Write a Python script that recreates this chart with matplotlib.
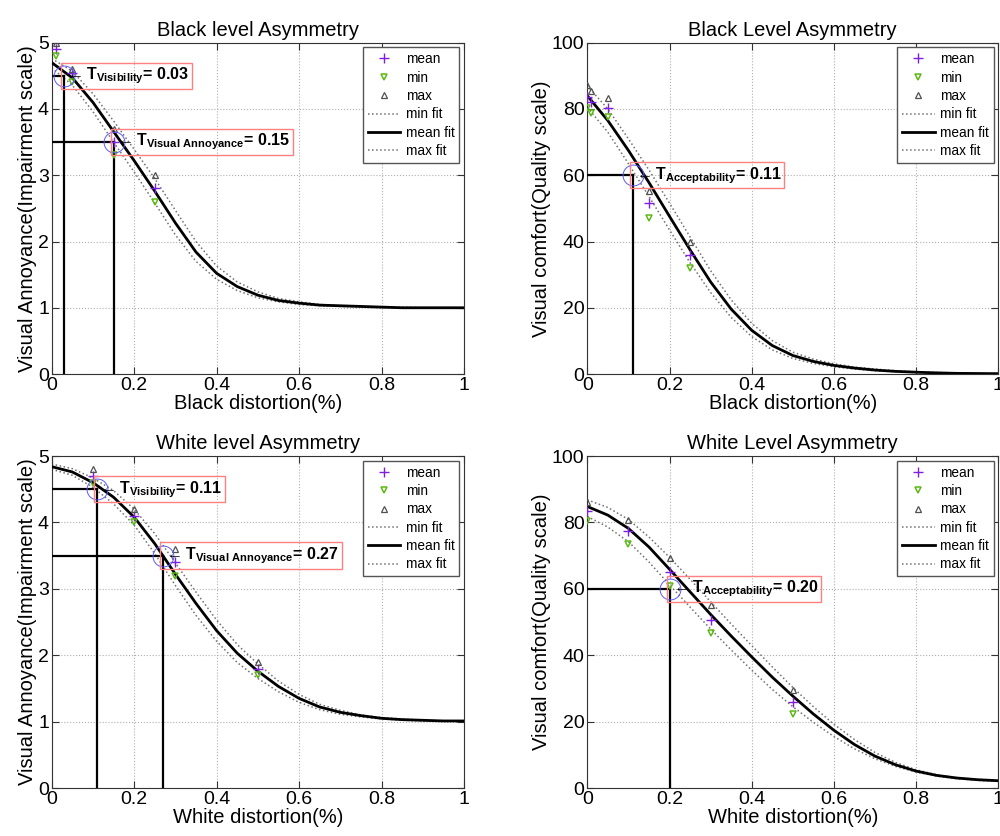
import matplotlib
matplotlib.use("Agg")
import matplotlib.pyplot as plt
from matplotlib.lines import Line2D

plt.rcParams['font.family'] = ['Liberation Sans', 'DejaVu Sans']
plt.rcParams['mathtext.fontset'] = 'custom'
plt.rcParams['mathtext.rm'] = 'Liberation Sans'
plt.rcParams['mathtext.bf'] = 'Liberation Sans:bold'

# common x grid of the fitted curves
fit_x = [0, .05, .1, .15, .2, .25, .3, .35, .4, .45, .5,
         .55, .6, .65, .7, .75, .8, .85, .9, .95, 1]

# --- black level, impairment scale
bi_x = [0.01, 0.05, 0.15, 0.25]
bi_mean = [4.9, 4.55, 3.5, 2.8]
bi_min = [4.8, 4.4, 3.3, 2.6]
bi_max = [5.0, 4.6, 3.7, 3.0]
bi_mean_fit = [4.70, 4.47, 4.10, 3.66, 3.22, 2.76, 2.28, 1.84, 1.52, 1.32, 1.19,
               1.11, 1.07, 1.04, 1.03, 1.02, 1.01, 1.0, 1.0, 1.0, 1.0]
bi_min_fit = [4.62, 4.36, 3.96, 3.50, 3.05, 2.58, 2.10, 1.70, 1.43, 1.26, 1.15,
              1.09, 1.05, 1.03, 1.02, 1.01, 1.0, 1.0, 1.0, 1.0, 1.0]
bi_max_fit = [4.76, 4.57, 4.23, 3.82, 3.39, 2.95, 2.47, 2.00, 1.63, 1.39, 1.24,
              1.14, 1.09, 1.05, 1.03, 1.02, 1.01, 1.01, 1.0, 1.0, 1.0]
bi_thr = [(0.03, 4.5, 'Visibility', '0.03'), (0.15, 3.5, 'Visual Annoyance', '0.15')]

# --- black level, quality scale
bq_x = [0, 0.01, 0.05, 0.15, 0.25]
bq_mean = [83.7, 82.2, 80.4, 51.6, 35.8]
bq_min = [80.2, 78.7, 77.5, 47.2, 31.9]
bq_max = [87.2, 85.4, 83.4, 55.1, 39.8]
bq_mean_fit = [84, 76.5, 67.5, 57.8, 47.6, 37.5, 27.8, 19.6, 13.2, 8.6, 5.6,
               3.8, 2.6, 1.8, 1.2, 0.8, 0.55, 0.35, 0.2, 0.15, 0.1]
bq_min_fit = [80.5, 73, 63.5, 53.6, 43.5, 33.6, 24.6, 17.1, 11.3, 7.3, 4.7,
              3.2, 2.2, 1.5, 1.0, 0.7, 0.45, 0.3, 0.2, 0.1, 0.08]
bq_max_fit = [87, 80, 71, 61.6, 51.6, 41.4, 31.2, 22.4, 15.3, 10.1, 6.6,
              4.5, 3.1, 2.1, 1.5, 1.0, 0.65, 0.45, 0.3, 0.2, 0.15]
bq_thr = [(0.11, 60, 'Acceptability', '0.11')]

# --- white level, impairment scale
wi_x = [0.1, 0.2, 0.3, 0.5]
wi_mean = [4.7, 4.1, 3.4, 1.8]
wi_min = [4.6, 4.0, 3.2, 1.7]
wi_max = [4.8, 4.2, 3.6, 1.9]
wi_mean_fit = [4.84, 4.76, 4.60, 4.38, 4.08, 3.68, 3.22, 2.78, 2.37, 2.03, 1.76,
               1.53, 1.35, 1.22, 1.14, 1.09, 1.05, 1.03, 1.02, 1.01, 1.01]
wi_min_fit = [4.80, 4.71, 4.53, 4.28, 3.96, 3.53, 3.05, 2.60, 2.21, 1.89, 1.65,
              1.45, 1.29, 1.18, 1.11, 1.07, 1.04, 1.02, 1.01, 1.01, 1.0]
wi_max_fit = [4.88, 4.81, 4.67, 4.48, 4.20, 3.83, 3.39, 2.95, 2.53, 2.16, 1.87,
              1.61, 1.41, 1.26, 1.17, 1.10, 1.06, 1.04, 1.02, 1.01, 1.01]
wi_thr = [(0.11, 4.5, 'Visibility', '0.11'), (0.27, 3.5, 'Visual Annoyance', '0.27')]

# --- white level, quality scale
wq_x = [0, 0.1, 0.2, 0.3, 0.5]
wq_mean = [83.3, 77.5, 65.2, 50.5, 25.8]
wq_min = [80.5, 73.5, 61.0, 46.6, 22.3]
wq_max = [86.3, 80.7, 69.4, 55.2, 29.6]
wq_mean_fit = [84.8, 82.2, 78.2, 72.6, 65.9, 59.1, 52.3, 45.8, 39.5, 33.4, 27.7,
               22.3, 17.4, 13.1, 9.6, 7.0, 5.1, 3.8, 3.0, 2.5, 2.2]
wq_min_fit = [81.8, 78.6, 74.2, 68.1, 61.2, 54.5, 47.9, 41.6, 35.5, 29.7, 24.5,
              19.8, 15.5, 11.8, 8.8, 6.5, 4.8, 3.6, 2.8, 2.3, 2.0]
wq_max_fit = [86.8, 84.5, 80.9, 75.6, 69.5, 62.9, 56.1, 49.4, 42.9, 36.5, 30.3,
              24.5, 19.2, 14.6, 10.7, 7.7, 5.5, 4.0, 3.0, 2.4, 2.0]
wq_thr = [(0.20, 60, 'Acceptability', '0.20')]

PURPLE = '#7f1fe0'
GREEN = '#5cb814'
GRAY = '#505050'
FITGRAY = '#707070'

panels = [
    ([0.0517, 0.5526, 0.4123, 0.3963], 'Black level Asymmetry', 'Black distortion(%)',
     'Visual Annoyance(Impairment scale)', 5, bi_x, bi_mean, bi_min, bi_max,
     bi_mean_fit, bi_min_fit, bi_max_fit, bi_thr),
    ([0.5873, 0.5526, 0.4110, 0.3963], 'Black Level Asymmetry', 'Black distortion(%)',
     'Visual comfort(Quality scale)', 100, bq_x, bq_mean, bq_min, bq_max,
     bq_mean_fit, bq_min_fit, bq_max_fit, bq_thr),
    ([0.0517, 0.0574, 0.4123, 0.3971], 'White level Asymmetry', 'White distortion(%)',
     'Visual Annoyance(Impairment scale)', 5, wi_x, wi_mean, wi_min, wi_max,
     wi_mean_fit, wi_min_fit, wi_max_fit, wi_thr),
    ([0.5873, 0.0574, 0.4110, 0.3971], 'White Level Asymmetry', 'White distortion(%)',
     'Visual comfort(Quality scale)', 100, wq_x, wq_mean, wq_min, wq_max,
     wq_mean_fit, wq_min_fit, wq_max_fit, wq_thr),
]

fig = plt.figure(figsize=(10, 8.36), dpi=100)

for (pos, title, xlab, ylab, ytop, px, pmean, pmin, pmax,
     fmean, fmin, fmax, thr) in panels:
    ax = fig.add_axes(pos)
    ax.plot(fit_x, fmin, ':', color=FITGRAY, lw=1.1, zorder=2)
    ax.plot(fit_x, fmax, ':', color=FITGRAY, lw=1.1, zorder=2)
    ax.plot(fit_x, fmean, '-', color='black', lw=2, zorder=3)
    ax.plot(px, pmean, '+', color=PURPLE, ms=7, mew=1.0, ls='none', zorder=4)
    ax.plot(px, pmin, 'v', mfc='none', mec=GREEN, ms=4.5, mew=1.1, ls='none', zorder=4)
    ax.plot(px, pmax, '^', mfc='none', mec=GRAY, ms=4.5, mew=0.9, ls='none', zorder=4)

    for tx, ty, name, val in thr:
        ax.plot([tx, tx], [0, ty], color='black', lw=1.6, zorder=3)
        ax.plot([0, tx], [ty, ty], color='black', lw=1.6, zorder=3)
        ax.plot(tx, ty, 'o', mfc='none', mec='#5a5aff', ms=15, mew=0.7, zorder=4)
        label = (r'$\leftarrow\mathbf{T}_{\mathbf{' + name.replace(' ', r'\ ') + r'}}$'
                 + '= ' + val)
        ax.text(tx, ty, label, fontsize=11.5, fontweight='bold', ha='left', va='center',
                zorder=5,
                bbox=dict(boxstyle='square,pad=0.18', fc='none', ec='#ff8080', lw=1))

    ax.set_xlim(0, 1)
    ax.set_ylim(0, ytop)
    ax.set_xticks([0, 0.2, 0.4, 0.6, 0.8, 1])
    ax.set_xticklabels(['0', '0.2', '0.4', '0.6', '0.8', '1'])
    ax.grid(True, ls=':', color='#b0b0b0', lw=0.8)
    ax.tick_params(direction='in', top=True, right=True, labelsize=14, length=5,
                   pad=2, color='#333333')
    for sp in ax.spines.values():
        sp.set_color('#333333')
    ax.set_title(title, fontsize=14.5, pad=5)
    ax.set_xlabel(xlab, fontsize=14.5, labelpad=0)
    ax.set_ylabel(ylab, fontsize=14.5, labelpad=1)

    handles = [
        Line2D([], [], marker='+', color=PURPLE, ls='none', ms=7, mew=1.0),
        Line2D([], [], marker='v', mfc='none', mec=GREEN, ls='none', ms=4.5, mew=1.1),
        Line2D([], [], marker='^', mfc='none', mec=GRAY, ls='none', ms=4.5, mew=0.9),
        Line2D([], [], ls=':', color=FITGRAY, lw=1.1),
        Line2D([], [], ls='-', color='black', lw=2),
        Line2D([], [], ls=':', color=FITGRAY, lw=1.1),
    ]
    leg = ax.legend(handles, ['mean', 'min', 'max', 'min fit', 'mean fit', 'max fit'],
                    loc='upper right', fontsize=9.8, frameon=True, fancybox=False,
                    edgecolor='#555555', framealpha=1, labelspacing=0.32,
                    handlelength=2.4, handletextpad=0.4, borderaxespad=0.35,
                    borderpad=0.35)
    leg.get_frame().set_linewidth(1)

fig.savefig('out.png', dpi=100)
